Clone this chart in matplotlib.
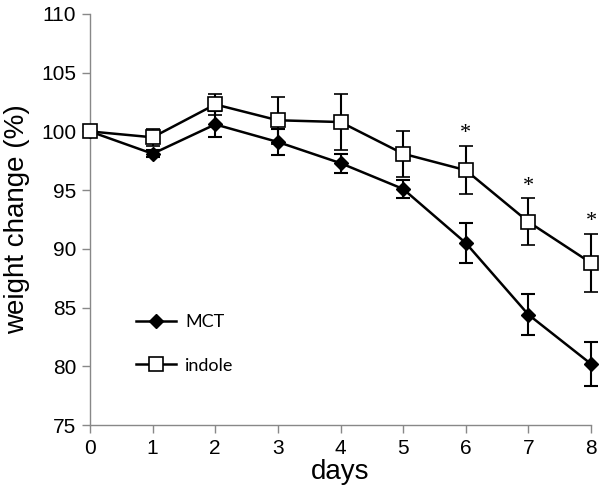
import matplotlib
matplotlib.use("Agg")
import matplotlib.pyplot as plt
from matplotlib.lines import Line2D

days = [0, 1, 2, 3, 4, 5, 6, 7, 8]
mct = [100.0, 98.1, 100.6, 99.1, 97.3, 95.1, 90.5, 84.4, 80.2]
mct_err = [0.0, 0.3, 1.1, 1.1, 0.8, 0.8, 1.7, 1.75, 1.9]
indole = [100.0, 99.5, 102.3, 100.95, 100.8, 98.1, 96.7, 92.3, 88.8]
indole_err = [0.0, 0.7, 0.9, 2.0, 2.35, 1.95, 2.05, 2.0, 2.5]
star_days = [6, 7, 8]
ytick_vals = [75, 80, 85, 90, 95, 100, 105, 110]

fig = plt.figure(figsize=(6.01, 4.94), dpi=100)
ax = fig.add_axes([90/601, 1-425/494, (591-90)/601, (425-14)/494])

mct_style = dict(color='black', lw=1.8, marker='D', markersize=7.5,
                 markerfacecolor='black', markeredgecolor='black')
ind_style = dict(color='black', lw=1.8, marker='s', markersize=9.5,
                 markerfacecolor='white', markeredgecolor='black', markeredgewidth=1.2)

c1 = ax.errorbar(days, mct, yerr=mct_err, ecolor='black', elinewidth=1.5, capsize=5,
                 capthick=1.5, zorder=3, **mct_style)
c2 = ax.errorbar(days, indole, yerr=indole_err, ecolor='black', elinewidth=1.5, capsize=5,
                 capthick=1.5, zorder=4, **ind_style)
for c in (c1, c2):
    c[0].set_clip_on(False)
    for a in c[1]:
        a.set_clip_on(False)
    for a in c[2]:
        a.set_clip_on(False)

for d in star_days:
    i = days.index(d)
    ax.annotate('*', xy=(d, indole[i] + indole_err[i]), xytext=(0, 2),
                textcoords='offset points', ha='center', va='bottom',
                fontsize=16, family='Liberation Serif')

ax.set_xlim(0, 8)
ax.set_ylim(75, 110)
ax.set_yticks(ytick_vals)
ax.set_xticks(days)
for s in ['top', 'right']:
    ax.spines[s].set_visible(False)
for s in ['left', 'bottom']:
    ax.spines[s].set_color('#888888')
    ax.spines[s].set_linewidth(1.0)
ax.tick_params(axis='both', direction='out', color='#888888', length=6, width=1.0,
               labelsize=15, pad=4)
for lab in ax.get_xticklabels() + ax.get_yticklabels():
    lab.set_family('Liberation Sans')
ax.set_xlabel('days', fontsize=20, family='Liberation Sans', labelpad=1)
ax.set_ylabel('weight change (%)', fontsize=20, family='Liberation Sans', labelpad=8)

handles = [Line2D([], [], **mct_style), Line2D([], [], **ind_style)]
leg = ax.legend(handles, ['MCT', 'indole'], loc='lower left', bbox_to_anchor=(0.06, 0.085),
                frameon=False, prop={'family': 'Lato', 'size': 13}, handlelength=2.2,
                labelspacing=1.55, handletextpad=0.5)

fig.savefig('out.png', dpi=100)
